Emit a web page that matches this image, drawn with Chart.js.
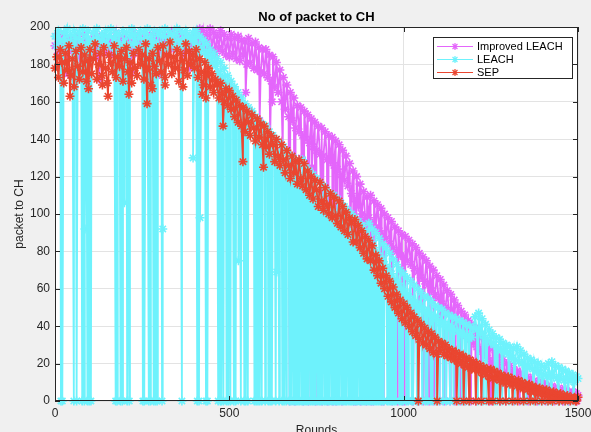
<!DOCTYPE html>
<html>
<head>
<meta charset="utf-8">
<script src="https://cdn.jsdelivr.net/npm/chart.js@4.4.1/dist/chart.umd.min.js"></script>
<style>
  html, body { margin: 0; padding: 0; background: #f0f0f0; }
</style>
</head>
<body>
<canvas id="chart" width="591" height="432"></canvas>
<script>
// rounds sampled every 5 (0..1500)
const rounds = Array.from({ length: 301 }, (_, i) => i * 5);

// packets to CH, one value per 5 rounds (20 per row = 100 rounds)
const impValues = [
  190, 195, 186, 193, 188, 196, 185, 192, 189, 194, 187, 193, 190, 196, 184, 191, 188, 195, 186, 192,
  187, 193, 190, 196, 184, 191, 188, 195, 186, 192, 189, 194, 185, 192, 190, 197, 186, 193, 188, 195,
  189, 194, 185, 192, 190, 197, 186, 193, 188, 195, 187, 192, 189, 196, 185, 193, 190, 197, 188, 194,
  187, 192, 189, 196, 185, 193, 190, 197, 188, 194, 191, 197, 190, 196, 186, 193, 189, 195, 187, 194,
  191, 197, 188, 199, 190, 198, 187, 196, 189, 199, 188, 197, 186, 195, 189, 198, 187, 196, 185, 194,
  184, 196, 186, 194, 183, 195, 182, 193, 185, 192, 180, 194, 181, 191, 178, 192, 177, 189, 176, 188,
  175, 188, 173, 185, 171, 184, 168, 181, 165, 177, 160, 173, 156, 169, 152, 165, 150, 162, 146, 158,
  144, 157, 142, 155, 140, 153, 138, 151, 136, 149, 134, 147, 132, 146, 131, 144, 129, 142, 128, 141,
  126, 139, 124, 137, 121, 134, 118, 131, 115, 127, 111, 123, 108, 120, 104, 116, 100, 112, 97, 109,
  98, 110, 95, 107, 93, 105, 91, 103, 89, 100, 87, 98, 84, 96, 82, 93, 80, 91, 78, 89,
  77, 88, 75, 86, 73, 84, 71, 82, 69, 79, 66, 77, 64, 75, 62, 72, 59, 70, 57, 67,
  55, 65, 52, 62, 50, 59, 47, 57, 44, 54, 42, 51, 39, 48, 37, 46, 35, 43, 33, 41,
  31, 39, 29, 37, 27, 34, 25, 32, 23, 30, 21, 28, 19, 26, 18, 24, 16, 22, 15, 20,
  14, 19, 13, 17, 12, 16, 11, 15, 10, 14, 9, 13, 8, 12, 8, 11, 7, 10, 6, 10,
  6, 9, 5, 8, 5, 8, 4, 7, 4, 7, 3, 6, 3, 6, 2, 5, 2, 5, 2, 4,
  3
];
const leachValues = [
  195, 190, 198, 193, 188, 197, 192, 199, 189, 196, 191, 198, 194, 187, 197, 192, 199, 190, 195, 198,
  193, 189, 197, 191, 199, 194, 188, 196, 192, 198, 190, 195, 199, 189, 194, 197, 191, 196, 188, 198,
  192, 197, 189, 195, 199, 191, 196, 188, 194, 198, 190, 197, 193, 199, 189, 195, 192, 198, 191, 196,
  198, 190, 195, 199, 188, 194, 197, 191, 196, 189, 199, 193, 190, 197, 192, 198, 189, 195, 193, 197,
  194, 198, 190, 195, 188, 193, 186, 191, 184, 188, 181, 186, 179, 183, 176, 181, 173, 178, 170, 174,
  167, 171, 163, 168, 160, 165, 157, 162, 155, 159, 152, 157, 150, 155, 148, 152, 145, 150, 143, 148,
  141, 147, 139, 144, 137, 142, 134, 140, 132, 138, 130, 136, 128, 133, 126, 131, 124, 130, 122, 128,
  126, 120, 129, 118, 125, 116, 123, 114, 121, 112, 119, 110, 117, 108, 115, 106, 113, 104, 111, 102,
  110, 100, 108, 98, 106, 96, 104, 94, 102, 92, 100, 90, 98, 88, 96, 86, 94, 84, 91, 81,
  95, 85, 92, 82, 90, 79, 87, 76, 84, 73, 82, 71, 79, 68, 76, 65, 73, 63, 70, 60,
  68, 58, 66, 56, 64, 54, 62, 52, 60, 51, 58, 49, 56, 48, 55, 46, 53, 45, 51, 44,
  50, 42, 49, 41, 47, 40, 46, 39, 45, 38, 44, 37, 43, 36, 42, 35, 41, 34, 40, 34,
  39, 45, 38, 47, 36, 44, 35, 41, 33, 38, 31, 36, 30, 34, 28, 33, 27, 31, 26, 30,
  25, 29, 23, 28, 22, 29, 21, 27, 20, 25, 19, 23, 18, 22, 17, 21, 16, 20, 15, 19,
  14, 18, 13, 20, 14, 21, 13, 19, 12, 18, 12, 17, 11, 16, 12, 15, 11, 14, 10, 13,
  12
];
const sepValues = [
  178, 184, 173, 188, 181, 170, 186, 177, 190, 174, 183, 168, 187, 179, 172, 189, 176, 185, 171, 182,
  188, 175, 183, 191, 172, 180, 186, 174, 189, 178, 170, 185, 181, 176, 190, 173, 184, 179, 187, 171,
  183, 189, 176, 181, 170, 186, 178, 174, 188, 180, 185, 172, 191, 177, 183, 169, 186, 179, 175, 189,
  182, 176, 190, 173, 185, 180, 192, 175, 184, 178, 188, 171, 186, 182, 177, 191, 174, 187, 180, 185,
  178, 188, 173, 183, 176, 169, 181, 174, 178, 168, 175, 165, 172, 169, 162, 170, 164, 160, 167, 158,
  166, 156, 163, 152, 161, 149, 158, 147, 157, 144, 155, 149, 142, 153, 146, 139, 151, 141, 148, 137,
  147, 136, 144, 132, 142, 137, 128, 140, 131, 126, 137, 129, 122, 134, 126, 119, 131, 122, 128, 116,
  129, 119, 115, 127, 113, 123, 110, 120, 108, 118, 113, 104, 117, 107, 102, 114, 105, 100, 111, 98,
  109, 99, 95, 107, 93, 104, 91, 101, 89, 98, 95, 85, 97, 85, 94, 82, 91, 79, 88, 76,
  86, 75, 83, 70, 78, 67, 75, 63, 71, 60, 67, 56, 64, 53, 61, 50, 57, 47, 54, 44,
  52, 42, 50, 40, 47, 37, 45, 35, 43, 33, 41, 31, 39, 30, 37, 28, 36, 26, 34, 25,
  32, 27, 31, 25, 30, 24, 28, 23, 27, 22, 26, 21, 25, 20, 24, 19, 23, 18, 22, 17,
  21, 17, 20, 16, 19, 15, 18, 14, 17, 13, 17, 12, 16, 12, 15, 11, 14, 10, 13, 10,
  13, 9, 12, 9, 11, 8, 11, 7, 10, 7, 9, 6, 9, 5, 8, 5, 7, 4, 7, 4,
  6, 3, 6, 3, 5, 2, 5, 2, 4, 2, 4, 1, 3, 1, 3, 1, 2, 1, 2, 0,
  2
];

// rounds where the count fell to 0 (the vertical spikes)
const impZeroRounds = [673, 688, 712, 727, 748, 766, 782, 797, 806, 823, 857, 863, 877, 893, 907, 913,
  937, 943, 967, 983, 997, 1003, 1027, 1043, 1057, 1073, 1087, 1103, 1117, 1133, 1147, 1163, 1177,
  1193, 1207, 1223, 1247, 1253, 1277, 1293, 1317, 1333, 1357, 1383, 1407, 1433, 1457, 1473, 1497];
const leachZeroRounds = [17, 21, 54, 62, 78, 84, 93, 98, 103, 174, 178, 188, 193, 207, 213, 252, 256,
  269, 274, 283, 288, 293, 307, 364, 408, 413, 433, 437, 468, 474, 477, 483, 492, 497, 503, 513, 518,
  533, 543, 547, 553, 572, 577, 582, 587, 593, 603, 612, 617, 622, 633, 643, 652, 657, 663, 672, 677,
  683, 688, 692, 697, 702, 708, 712, 717, 722, 727, 733, 738, 743, 747, 753, 758, 762, 767, 773, 778,
  783, 787, 793, 798, 803, 808, 812, 817, 823, 828, 833, 837, 843, 848, 852, 857, 862, 867, 873, 878,
  883, 888, 893, 898, 903, 908, 913, 918, 923, 928, 933, 938, 943, 953, 958, 963, 968, 973, 978, 988,
  993, 998, 1008, 1013, 1023, 1027, 1038, 1043, 1053, 1063, 1068, 1078, 1083, 1093, 1103, 1113, 1122,
  1133, 1143, 1158, 1167, 1178, 1187, 1213, 1228, 1237, 1262, 1268, 1283, 1302, 1318, 1343, 1352,
  1373, 1388, 1397, 1412, 1423, 1444, 1462, 1471, 1487];
const sepZeroRounds = [1042, 1096, 1152, 1172, 1188, 1207, 1223, 1244, 1256, 1276, 1293, 1312, 1327,
  1344, 1363, 1378, 1396, 1414, 1427, 1446, 1463, 1478, 1493];

// partial drops
const impDropRounds = [37, 127, 217, 307, 387, 547, 587, 617, 623, 653, 707, 737, 763, 817, 847];
const impDropValues = [175, 172, 176, 174, 178, 165, 150, 140, 160, 135, 130, 125, 110, 100, 95];
const leachDropRounds = [86, 199, 309, 396, 416, 526, 636];
const leachDropValues = [92, 106, 92, 130, 98, 75, 69];
const sepDropRounds = [43, 96, 136, 152, 212, 264, 279, 316, 367, 422, 433, 482, 539, 598];
const sepDropValues = [163, 167, 169, 163, 164, 159, 167, 169, 168, 164, 162, 147, 128, 125];

const labels = ["Improved LEACH", "LEACH", "SEP"];
const colors = ["#e466fb", "#6ef2fc", "#ea4630"];

function buildSeries(values, zeroRounds, dropRounds, dropValues) {
  const pts = values.map((v, i) => ({ x: rounds[i], y: v }));
  zeroRounds.forEach((r) => pts.push({ x: r, y: 0 }));
  dropRounds.forEach((r, i) => pts.push({ x: r, y: dropValues[i] }));
  pts.sort((a, b) => a.x - b.x);
  return pts;
}

const seriesData = [
  buildSeries(impValues, impZeroRounds, impDropRounds, impDropValues),
  buildSeries(leachValues, leachZeroRounds, leachDropRounds, leachDropValues),
  buildSeries(sepValues, sepZeroRounds, sepDropRounds, sepDropValues),
];

const FONT = '"Liberation Sans", Arial, sans-serif';

function drawStar(ctx, x, y, r) {
  ctx.moveTo(x - r, y); ctx.lineTo(x + r, y);
  ctx.moveTo(x, y - r); ctx.lineTo(x, y + r);
  const d = r * 0.7071;
  ctx.moveTo(x - d, y - d); ctx.lineTo(x + d, y + d);
  ctx.moveTo(x - d, y + d); ctx.lineTo(x + d, y - d);
}

// figure background, box, inward ticks, titles and legend
const matlabFrame = {
  id: "matlabFrame",
  beforeDraw(chart) {
    const { ctx, chartArea: a } = chart;
    ctx.save();
    ctx.fillStyle = "#f0f0f0";
    ctx.fillRect(0, 0, chart.width, chart.height);
    ctx.fillStyle = "#ffffff";
    ctx.fillRect(a.left, a.top, a.right - a.left, a.bottom - a.top);
    ctx.restore();
  },
  afterDraw(chart) {
    const { ctx, chartArea: a, scales } = chart;
    ctx.save();
    ctx.strokeStyle = "#262626";
    ctx.lineWidth = 1;
    ctx.strokeRect(a.left + 0.5, a.top + 0.5, a.right - a.left - 1, a.bottom - a.top - 1);

    ctx.beginPath();
    scales.x.ticks.forEach((t) => {
      const px = Math.round(scales.x.getPixelForValue(t.value)) + 0.5;
      ctx.moveTo(px, a.bottom); ctx.lineTo(px, a.bottom - 5);
      ctx.moveTo(px, a.top); ctx.lineTo(px, a.top + 5);
    });
    scales.y.ticks.forEach((t) => {
      const py = Math.round(scales.y.getPixelForValue(t.value)) + 0.5;
      ctx.moveTo(a.left, py); ctx.lineTo(a.left + 5, py);
      ctx.moveTo(a.right, py); ctx.lineTo(a.right - 5, py);
    });
    ctx.stroke();

    // title
    ctx.fillStyle = "#000000";
    ctx.font = "bold 13px " + FONT;
    ctx.textAlign = "center";
    ctx.textBaseline = "alphabetic";
    ctx.fillText("No of packet to CH", (a.left + a.right) / 2, 21);

    // axis labels
    ctx.fillStyle = "#262626";
    ctx.font = "12px " + FONT;
    ctx.textBaseline = "top";
    ctx.fillText("Rounds", (a.left + a.right) / 2, 425);
    ctx.save();
    ctx.translate(20, (a.top + a.bottom) / 2);
    ctx.rotate(-Math.PI / 2);
    ctx.textBaseline = "middle";
    ctx.fillText("packet to CH", 0, 0);
    ctx.restore();

    // legend
    const lx = 433, ly = 37, lw = 139, lh = 41;
    ctx.fillStyle = "#ffffff";
    ctx.fillRect(lx, ly, lw, lh);
    ctx.strokeStyle = "#262626";
    ctx.strokeRect(lx + 0.5, ly + 0.5, lw, lh);
    ctx.font = "11px " + FONT;
    ctx.textAlign = "left";
    ctx.textBaseline = "middle";
    labels.forEach((lab, i) => {
      const y = ly + 9.5 + i * 13;
      ctx.strokeStyle = colors[i];
      ctx.lineWidth = 1.2;
      ctx.beginPath();
      ctx.moveTo(lx + 4, y); ctx.lineTo(lx + 40, y);
      drawStar(ctx, lx + 22, y, 3.5);
      ctx.stroke();
      ctx.fillStyle = "#000000";
      ctx.fillText(lab, lx + 44, y);
    });
    ctx.restore();
  },
};

// SEP first in the array so it is painted on top
const order = [2, 1, 0];
const datasets = order.map((i) => ({
  label: labels[i],
  data: seriesData[i],
  borderColor: colors[i],
  borderWidth: 1.8,
  pointStyle: "star",
  pointRadius: 4.5,
  pointBorderWidth: 1.6,
  pointBorderColor: colors[i],
  pointBackgroundColor: colors[i],
  tension: 0,
  clip: 5,
}));

new Chart(document.getElementById("chart"), {
  type: "line",
  data: { datasets },
  plugins: [matlabFrame],
  options: {
    responsive: false,
    animation: false,
    events: [],
    layout: { padding: { top: 27, right: 13, left: 0, bottom: 0 } },
    plugins: { legend: { display: false }, tooltip: { enabled: false } },
    scales: {
      x: {
        type: "linear",
        min: 0,
        max: 1500,
        afterFit: (s) => { s.height = 31; s.paddingLeft = 0; s.paddingRight = 0; },
        ticks: { stepSize: 500, color: "#262626", padding: 5, maxRotation: 0,
          callback: (v) => String(v), font: { family: FONT, size: 12 } },
        grid: { color: "#e3e3e3", drawTicks: false },
        border: { display: false },
      },
      y: {
        min: 0,
        max: 200,
        afterFit: (s) => { s.width = 55; s.paddingTop = 0; s.paddingBottom = 0; },
        ticks: { stepSize: 20, color: "#262626", padding: 5,
          font: { family: FONT, size: 12 } },
        grid: { color: "#e3e3e3", drawTicks: false },
        border: { display: false },
      },
    },
  },
});
</script>
</body>
</html>
